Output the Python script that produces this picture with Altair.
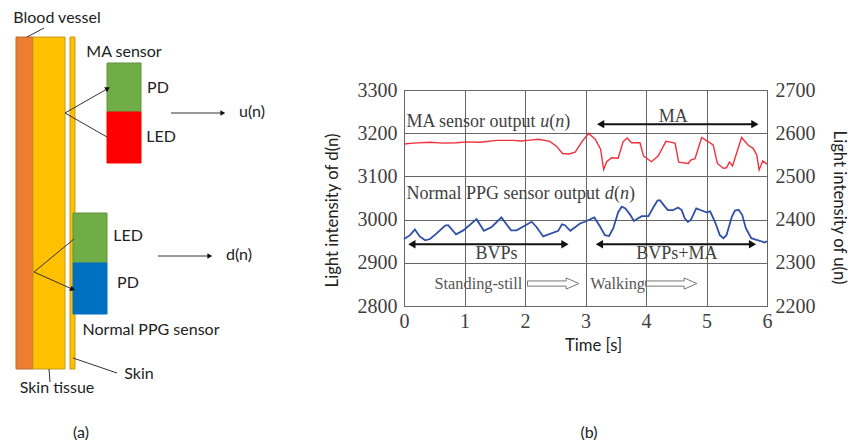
import altair as alt
import pandas as pd

# ---- panel (b) series ----
ma_t = [0,0.15,0.43,0.65,0.87,1.04,1.26,1.53,1.81,1.94,2.08,2.22,2.41,2.52,2.62,2.72,2.83,2.94,3.05,3.16,3.25,3.30,3.35,3.43,3.54,3.62,3.69,3.76,3.90,3.96,4.09,4.20,4.33,4.48,4.54,4.70,4.74,4.81,4.92,5.00,5.11,5.18,5.28,5.33,5.38,5.43,5.58,5.69,5.77,5.83,5.87,5.93,6.0]
ma_u = [2575,2577,2579,2577,2578,2580,2579,2583.5,2583.5,2582,2584,2586,2581,2570,2553,2552,2556,2580,2600,2586,2563,2516,2534,2543,2542,2580,2589,2578,2578,2547,2534,2547,2581,2577,2533,2530,2538,2541,2590,2583,2573,2530,2519,2520,2533,2524,2590,2572,2565,2550,2515,2536,2528]

ppg_t = [0,0.10,0.18,0.26,0.35,0.43,0.54,0.68,0.73,0.86,0.98,1.20,1.32,1.45,1.61,1.77,1.86,2.11,2.19,2.30,2.55,2.61,2.66,2.75,2.91,2.99,3.146,3.24,3.32,3.39,3.46,3.54,3.60,3.66,3.74,3.80,3.87,3.93,4.04,4.12,4.19,4.23,4.29,4.36,4.45,4.53,4.59,4.64,4.69,4.74,4.83,4.92,5.00,5.06,5.14,5.22,5.28,5.33,5.42,5.47,5.53,5.59,5.65,5.74,5.80,5.88,5.96,6.0]
ppg_d = [2955,2964,2977,2961,2952,2955,2968,2986,2987,2966,2975,3001,2974,2983,3005,2975,2975,2995,2983,2961,2974,2989,2987,2974,2991,2995,3005,2984,2964,2962,2980,3017,3030,3026,3011,2997,3003,3008,3008,3028,3044,3045,3034,3022,3022,3028,3022,3003,2995,2999,3026,3021,3017,3019,2995,2964,2957,2964,3007,3021,3023,3011,2980,2957,2954,2951,2947,2950]

x_ticks = [0,1,2,3,4,5,6]
d_ticks = [2800,2900,3000,3100,3200,3300]
u_ticks = [2200,2300,2400,2500,2600,2700]

# annotation text in the plot
serif_text = ["MA sensor output ", "u", "(", "n", ")", "Normal PPG sensor output ", "d", "(", "n", ")"]
serif_t = [0.04, 2.25, 2.40, 2.50, 2.65, 0.04, 3.32, 3.47, 3.57, 3.72]
serif_v = [3214]*5 + [3048]*5
serif_style = ["normal","italic","normal","italic","normal","normal","italic","normal","italic","normal"]

center_text = ["MA", "BVPs", "BVPs+MA"]
center_t = [4.45, 1.53, 4.51]
center_v = [3238, 2920, 2920]

state_text = ["Standing-still", "Walking"]
state_t = [1.23, 3.53]
state_v = [2852, 2852]

span_t = [3.25, 0.13, 3.23]
span_t2 = [5.80, 2.66, 5.76]
span_v = [3221, 2943, 2943]

# hollow state arrows, outlined in (time, value)
hollow_a_t = [2.04,2.68,2.68,2.89,2.68,2.68,2.04,2.04]
hollow_b_t = [3.99,4.63,4.63,4.84,4.63,4.63,3.99,3.99]
hollow_v = [2858,2858,2865,2852,2839,2846,2846,2858]

# ---- panel (a) schematic, in picture units ----
box_x = [16,33,70,107,107,73,73]
box_x2 = [33,65,75,141,141,107,107]
box_y = [37,37,37,63,112,213,263]
box_y2 = [369,369,369,112,163,263,314]
box_fill = ["#ED7D31","#FFC000","#FFC000","#70AD47","#FF0000","#70AD47","#0070C0"]
box_edge = ["#BE6A2E","#C49A1C","#C49A1C","#5E9440","#FF0000","#5E9440","#0070C0"]

seg_x = [44,65,65,171,73,49,74,34,158]
seg_x2 = [27,107,107,222,117,50,34,72,209]
seg_y = [28,113,113,113,358,369,239,272,256]
seg_y2 = [37,89,137,113,373,382,272,289,256]

head_x = [107,222,72,209]
head_y = [89,113,289,256]
head_angle = [60,90,114,90]

label_text = ["Blood vessel","MA sensor","PD","LED","u(n)","LED","d(n)","PD","Normal PPG sensor","Skin","Skin tissue","(a)","(b)"]
label_x = [57,124,158,161,252,128,239,128,151,139,57,81,589]
label_y = [18,52,88,137,112,236,255,283,330,374,388,433,433]

W, H = 363, 216
SANS = "Lato"
SERIF = "Liberation Serif"
GRID = "#666666"
GRAY_TXT = "#3f3f3f"

ma = pd.DataFrame({"t": ma_t, "u": ma_u})
ppg = pd.DataFrame({"t": ppg_t, "d": ppg_d})
serif_df = pd.DataFrame({"t": serif_t, "v": serif_v, "s": serif_text, "st": serif_style})
center_df = pd.DataFrame({"t": center_t, "v": center_v, "s": center_text})
state_df = pd.DataFrame({"t": state_t, "v": state_v, "s": state_text})
span_df = pd.DataFrame({"t": span_t, "t2": span_t2, "v": span_v})
ends_r = pd.DataFrame({"t": span_t2, "v": span_v})
ends_l = pd.DataFrame({"t": span_t, "v": span_v})
hollow = pd.DataFrame({"t": hollow_a_t + hollow_b_t, "v": hollow_v * 2,
                       "g": ["a"] * 8 + ["b"] * 8, "o": list(range(8)) * 2})

boxes = pd.DataFrame({"x": box_x, "x2": box_x2, "y": box_y, "y2": box_y2, "f": box_fill, "e": box_edge})
segs = pd.DataFrame({"x": seg_x, "x2": seg_x2, "y": seg_y, "y2": seg_y2})
heads = pd.DataFrame({"x": head_x, "y": head_y, "a": head_angle})
labels = pd.DataFrame({"x": label_x, "y": label_y, "s": label_text})

# plot scales
tx = alt.Scale(domain=[0, 6], nice=False)
ty = alt.Scale(domain=[2800, 3300], nice=False)
uy = alt.Scale(domain=[2200, 2700], nice=False)
X = alt.X("t:Q", scale=tx, axis=None)
Y = alt.Y("v:Q", scale=ty, axis=None)

# the schematic scale covers the whole picture around the plot area
sx = alt.Scale(domain=[0, 856], range=[-404, 452], nice=False, zero=False)
sy = alt.Scale(domain=[0, 446], range=[-90, 356], nice=False, zero=False)
SX = alt.X("x:Q", scale=sx, axis=None)
SY = alt.Y("y:Q", scale=sy, axis=None)

axis_common = dict(grid=True, gridColor=GRID, gridWidth=1, gridOpacity=1, ticks=False, domain=False,
                   labelFont=SERIF, labelFontSize=20, labelColor=GRAY_TXT, labelFlush=False,
                   titleFont=SANS, titleFontSize=16.7, titleFontWeight="normal", titleColor="#222222")

blue = alt.Chart(ppg).mark_line(color="#2F50A8", strokeWidth=1.8).encode(
    x=alt.X("t:Q", scale=tx, title="Time [s]",
            axis=alt.Axis(values=x_ticks, format="d", labelPadding=5, titlePadding=6, titleX=189, **axis_common)),
    y=alt.Y("d:Q", scale=ty, title="Light intensity of d(n)",
            axis=alt.Axis(values=d_ticks, format="d", orient="left", labelPadding=7, titlePadding=16,
                          titleY=120, **axis_common)),
)
red = alt.Chart(ma).mark_line(color="#F0303A", strokeWidth=1.4).encode(
    x=alt.X("t:Q", scale=tx, axis=None),
    y=alt.Y("u:Q", scale=uy, title="Light intensity of u(n)",
            axis=alt.Axis(values=u_ticks, format="d", orient="right", labelPadding=8, titlePadding=14,
                          titleY=117, **{**axis_common, "grid": False})),
)

layers = [blue, red]

for style in ["normal", "italic"]:
    layers.append(
        alt.Chart(serif_df[serif_df.st == style]).mark_text(
            font=SERIF, fontSize=18, fontStyle=style, align="left", baseline="alphabetic", color=GRAY_TXT
        ).encode(x=X, y=Y, text="s:N")
    )
layers.append(alt.Chart(center_df).mark_text(font=SERIF, fontSize=18, color=GRAY_TXT).encode(x=X, y=Y, text="s:N"))
layers.append(alt.Chart(state_df).mark_text(font=SERIF, fontSize=16.3, color="#555555").encode(x=X, y=Y, text="s:N"))
layers.append(alt.Chart(span_df).mark_rule(color="#111111", strokeWidth=2).encode(x=X, x2="t2:Q", y=Y))
layers.append(alt.Chart(ends_r).mark_point(shape="triangle-right", filled=True, size=70, color="#111111", opacity=1).encode(x=X, y=Y))
layers.append(alt.Chart(ends_l).mark_point(shape="triangle-left", filled=True, size=70, color="#111111", opacity=1).encode(x=X, y=Y))
layers.append(alt.Chart(hollow).mark_line(color="#777777", strokeWidth=1).encode(x=X, y=Y, detail="g:N", order="o:Q"))

layers.append(alt.Chart(boxes).mark_rect().encode(
    x=SX, x2="x2:Q", y=SY, y2="y2:Q",
    fill=alt.Fill("f:N", scale=None), stroke=alt.Stroke("e:N", scale=None)))
layers.append(alt.Chart(segs).mark_rule(color="#333333", strokeWidth=1).encode(x=SX, x2="x2:Q", y=SY, y2="y2:Q"))
layers.append(alt.Chart(heads).mark_point(shape="triangle", filled=True, size=32, color="#111111", opacity=1).encode(
    x=SX, y=SY, angle=alt.Angle("a:Q", scale=None)))
layers.append(alt.Chart(labels).mark_text(font=SANS, fontSize=16, color="#222222").encode(x=SX, y=SY, text="s:N"))

chart = alt.layer(*layers).resolve_scale(x="independent", y="independent").properties(
    width=W, height=H,
    autosize=alt.AutoSizeParams(type="none"),
    padding={"left": 396, "top": 82, "right": 81, "bottom": 134},
).configure_view(stroke=GRID, strokeWidth=1)

chart.save("out.html", embed_options={"renderer": "svg", "actions": False})
